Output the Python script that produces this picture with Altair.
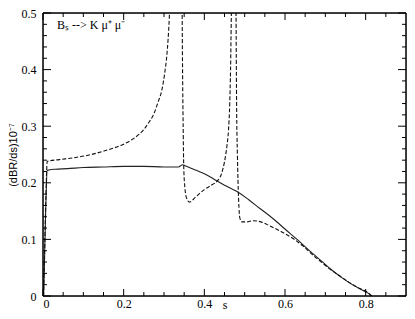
import altair as alt
import pandas as pd

# ---- data ----
solid_s = [0.0015, 0.004, 0.007, 0.0105, 0.03, 0.06, 0.1, 0.15, 0.2, 0.25, 0.3, 0.325,
           0.336, 0.341, 0.346, 0.352, 0.36, 0.38, 0.4, 0.432, 0.46, 0.485, 0.51, 0.537,
           0.57, 0.602, 0.63, 0.659, 0.69, 0.716, 0.74, 0.765, 0.79, 0.806, 0.815]
solid_v = [0.0, 0.07, 0.16, 0.222, 0.224, 0.225, 0.227, 0.228, 0.229, 0.229, 0.228, 0.228,
           0.228, 0.230, 0.232, 0.230, 0.228, 0.222, 0.216, 0.203, 0.192, 0.183, 0.170, 0.155,
           0.137, 0.117, 0.100, 0.081, 0.062, 0.046, 0.033, 0.021, 0.011, 0.005, 0.0]

dashed_s = [0.0015, 0.004, 0.007, 0.0105, 0.04, 0.074, 0.12, 0.155, 0.196, 0.22, 0.237, 0.25,
            0.261, 0.275, 0.285, 0.295, 0.302, 0.307, 0.31, 0.313, 0.318, 0.33, 0.342, 0.345,
            0.346, 0.3475, 0.349, 0.352, 0.356, 0.363, 0.38, 0.40, 0.42, 0.432, 0.442, 0.45,
            0.456, 0.46, 0.463, 0.465, 0.467, 0.469, 0.474, 0.478, 0.479, 0.480, 0.482, 0.485,
            0.488, 0.493, 0.505, 0.521, 0.54, 0.562, 0.59, 0.619, 0.645, 0.668, 0.69, 0.716,
            0.737, 0.757, 0.78, 0.806, 0.815]
dashed_v = [0.0, 0.08, 0.17, 0.238, 0.241, 0.244, 0.250, 0.257, 0.267, 0.276, 0.285, 0.294,
            0.305, 0.322, 0.342, 0.365, 0.395, 0.425, 0.452, 0.49, 0.6, 1.5, 0.7, 0.5,
            0.4, 0.3, 0.226, 0.19, 0.173, 0.166, 0.176, 0.188, 0.197, 0.203, 0.215, 0.237,
            0.265, 0.294, 0.34, 0.4, 0.5, 0.6, 1.5, 0.6, 0.45, 0.339, 0.25, 0.17,
            0.138, 0.131, 0.131, 0.133, 0.131, 0.124, 0.114, 0.102, 0.088, 0.073, 0.060, 0.045,
            0.035, 0.025, 0.015, 0.006, 0.0]

x_major = [0, 0.2, 0.4, 0.6, 0.8]
x_minor = [0.05, 0.1, 0.15, 0.25, 0.3, 0.35, 0.45, 0.5, 0.55, 0.65, 0.7, 0.75, 0.85]
y_major = [0, 0.1, 0.2, 0.3, 0.4, 0.5]
y_minor = [0.02, 0.04, 0.06, 0.08, 0.12, 0.14, 0.16, 0.18, 0.22, 0.24, 0.26, 0.28,
           0.32, 0.34, 0.36, 0.38, 0.42, 0.44, 0.46, 0.48]

label_text = "B\u209b --> K \u03bc\u207a \u03bc\u207b"
x_title = "s"
y_title = "(dBR/ds)10\u207b\u2077"

W, H = 363, 283

solid_df = pd.DataFrame({"s": solid_s, "v": solid_v})
dashed_df = pd.DataFrame({"s": dashed_s, "v": dashed_v})

xs = alt.Scale(domain=[0, 0.9], nice=False, zero=False)
ys = alt.Scale(domain=[0, 0.5], nice=False, zero=False)

serif = "Liberation Serif, Times New Roman, Times, serif"
sans = "Liberation Sans, Arial, Helvetica, sans-serif"

x_axis = alt.Axis(values=x_major, format=".1~f", ticks=False, domain=False, grid=False,
                  labelFont=serif, labelFontSize=12, labelColor="#000",
                  labelPadding=2, titleFont=serif, titleFontSize=12,
                  titleFontWeight="normal", titleColor="#000",
                  titleBaseline="alphabetic", titleY=12)
y_axis = alt.Axis(values=y_major, format=".1~f", ticks=False, domain=False, grid=False,
                  labelFont=serif, labelFontSize=12, labelColor="#000",
                  labelPadding=7, titleFont=sans, titleFontSize=11,
                  titleFontWeight="normal", titlePadding=3, titleColor="#000")


def X(field):
    return alt.X(field, scale=xs, axis=x_axis, title=x_title)


def Y(field):
    return alt.Y(field, scale=ys, axis=y_axis, title=y_title)


solid = alt.Chart(solid_df).mark_line(color="#222222", strokeWidth=1.1, clip=True,
                                      interpolate="monotone").encode(
    x=X("s:Q"), y=Y("v:Q"))

dashed = alt.Chart(dashed_df).mark_line(color="#111111", strokeWidth=1.1, clip=True,
                                        strokeDash=[4, 2], interpolate="monotone").encode(
    x=X("s:Q"), y=Y("v:Q"))


def xticks(vals, length):
    df = pd.DataFrame({"t": vals})
    base = alt.Chart(df).mark_rule(color="#000", strokeWidth=1)
    bot = base.encode(x=X("t:Q"), y=alt.value(H), y2=alt.value(H - length))
    top = base.encode(x=X("t:Q"), y=alt.value(0), y2=alt.value(length))
    return [bot, top]


def yticks(vals, length):
    df = pd.DataFrame({"t": vals})
    base = alt.Chart(df).mark_rule(color="#000", strokeWidth=1)
    left = base.encode(y=Y("t:Q"), x=alt.value(0), x2=alt.value(length))
    right = base.encode(y=Y("t:Q"), x=alt.value(W), x2=alt.value(W - length))
    return [left, right]


# plot frame
frame_df = pd.DataFrame({"k": [0]})
fb = alt.Chart(frame_df).mark_rule(color="#000", strokeWidth=1.5)
frame = [
    fb.encode(x=alt.value(0), x2=alt.value(W), y=alt.value(0)),
    fb.encode(x=alt.value(0), x2=alt.value(W), y=alt.value(H)),
    fb.encode(x=alt.value(0), y=alt.value(0), y2=alt.value(H)),
    fb.encode(x=alt.value(W), y=alt.value(0), y2=alt.value(H)),
]

label = alt.Chart(pd.DataFrame({"txt": [label_text]})).mark_text(
    align="left", baseline="alphabetic", font=serif, fontSize=12, color="#000"
).encode(x=alt.value(14), y=alt.value(16), text="txt:N")

layers = [solid, dashed] + xticks(x_major, 7) + xticks(x_minor, 4) + \
    yticks(y_major, 8) + yticks(y_minor, 4) + frame + [label]

chart = alt.layer(*layers).properties(
    width=W, height=H,
    autosize=alt.AutoSizeParams(type="none"),
    padding={"left": 35, "top": 5, "right": 1, "bottom": 15},
).configure_view(stroke=None).configure(background="white")

chart.save("out.html", embed_options={"renderer": "svg", "actions": False})
